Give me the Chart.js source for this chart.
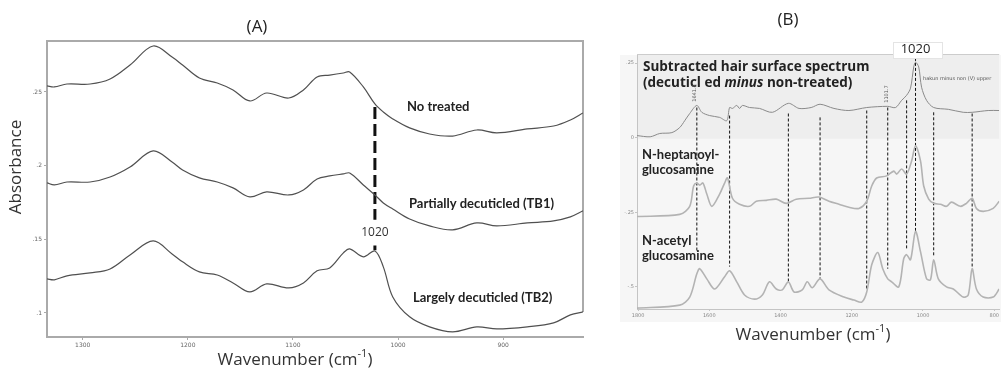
<!DOCTYPE html>
<html>
<head>
<meta charset="utf-8">
<script src="https://cdn.jsdelivr.net/npm/chart.js@4.4.1/dist/chart.umd.min.js"></script>
<style>
  body{margin:0;background:#fff;width:1001px;height:380px;overflow:hidden;position:relative;}
  #boxA{position:absolute;left:0;top:0;width:610px;height:380px;}
  #boxB{position:absolute;left:610px;top:0;width:391px;height:380px;}
</style>
</head>
<body>
<div id="boxA"><canvas id="chartA" width="610" height="380"></canvas></div>
<div id="boxB"><canvas id="chartB" width="391" height="380"></canvas></div>
<script>
/* Panel A data: wavenumber (cm-1) and absorbance */
const wnA = [1334,1327,1315,1293,1274,1255,1233,1215,1205,1189,1172,1157,1141,1125,1104,1090,1077,1065,1052,1046,1033,1022,1014,1005,989,970,948,925,906,877,852,836,824];
const noTreated = [0.2541,0.2534,0.2554,0.2554,0.2588,0.2683,0.2812,0.2737,0.2683,0.2595,0.2561,0.2514,0.2439,0.2493,0.2459,0.2514,0.2602,0.2615,0.2629,0.2636,0.2534,0.2419,0.2364,0.2317,0.2256,0.2215,0.2201,0.2242,0.2222,0.2249,0.2269,0.2310,0.2358];
const partlyTB1 = [0.1883,0.1869,0.1889,0.1889,0.1923,0.1991,0.2100,0.2025,0.1971,0.1917,0.1889,0.1849,0.1788,0.1822,0.1801,0.1835,0.1910,0.1930,0.1944,0.1950,0.1869,0.1801,0.1747,0.1706,0.1638,0.1591,0.1564,0.1611,0.1591,0.1611,0.1625,0.1652,0.1693];
const largelyTB2 = [0.1231,0.1225,0.1252,0.1272,0.1299,0.1394,0.1489,0.1401,0.1347,0.1279,0.1258,0.1204,0.1143,0.1197,0.1170,0.1204,0.1286,0.1306,0.1408,0.1435,0.1381,0.1421,0.1313,0.1109,0.0974,0.0906,0.0872,0.0906,0.0892,0.0906,0.0933,0.0987,0.1007];
const xTicksA = [1300,1200,1100,1000,900];
const yTicksA = [0.1,0.15,0.2,0.25];
const markA = 1022;

/* Panel B data */
const wnSub = [1803,1766,1739,1705,1683,1669,1655,1635,1621,1599,1571,1551,1543,1535,1523,1515,1507,1487,1459,1423,1378,1348,1314,1289,1250,1208,1158,1099,1077,1060,1046,1035,1026,1021,1012,1004,990,970,929,887,862,817,786];
const subtracted = [0.007,0.003,0.014,0.017,0.034,0.057,0.081,0.108,0.085,0.074,0.068,0.057,0.101,0.098,0.108,0.098,0.108,0.101,0.098,0.085,0.115,0.098,0.101,0.112,0.098,0.091,0.101,0.105,0.101,0.125,0.142,0.166,0.237,0.253,0.237,0.169,0.125,0.101,0.095,0.085,0.085,0.091,0.091];
const wnHep = [1803,1683,1655,1644,1635,1627,1618,1607,1593,1571,1557,1549,1535,1515,1487,1468,1440,1412,1384,1356,1320,1292,1264,1236,1208,1180,1158,1144,1130,1102,1082,1074,1060,1046,1032,1021,1007,998,984,970,951,934,920,895,878,862,850,831,803,786];
const heptanoyl = [-0.264,-0.257,-0.230,-0.162,-0.152,-0.159,-0.152,-0.189,-0.230,-0.189,-0.152,-0.135,-0.203,-0.223,-0.230,-0.213,-0.210,-0.206,-0.220,-0.206,-0.203,-0.199,-0.213,-0.223,-0.233,-0.237,-0.213,-0.162,-0.135,-0.128,-0.112,-0.122,-0.105,-0.122,-0.078,-0.027,-0.078,-0.162,-0.206,-0.220,-0.223,-0.230,-0.216,-0.230,-0.220,-0.203,-0.237,-0.247,-0.237,-0.213];
const wnAce = [1803,1683,1655,1635,1627,1607,1585,1557,1543,1523,1501,1473,1451,1431,1412,1395,1378,1362,1339,1325,1311,1289,1264,1222,1194,1172,1158,1144,1127,1113,1099,1088,1068,1054,1046,1035,1021,1007,990,979,970,957,934,915,887,873,862,850,831,803,786];
const acetyl = [-0.571,-0.561,-0.534,-0.456,-0.439,-0.473,-0.507,-0.466,-0.446,-0.483,-0.527,-0.541,-0.527,-0.483,-0.507,-0.510,-0.483,-0.517,-0.510,-0.483,-0.503,-0.473,-0.510,-0.534,-0.544,-0.551,-0.517,-0.426,-0.385,-0.439,-0.473,-0.483,-0.500,-0.405,-0.392,-0.409,-0.314,-0.382,-0.473,-0.476,-0.409,-0.473,-0.500,-0.507,-0.534,-0.527,-0.439,-0.507,-0.534,-0.534,-0.507];
const markWn = [1635,1543,1378,1289,1158,1099,1046,1021,970,862];
const markTop = [0.101,0.074,0.081,0.068,0.091,0.101,0.125,0.284,0.085,0.081];
const markBot = [-0.382,-0.432,-0.483,-0.473,-0.510,-0.439,-0.375,-0.314,-0.399,-0.432];
const xTicksB = [1800,1600,1400,1200,1000,800];
const yTicksB = [0.25,0,-0.25,-0.5];

const pts = (xs,ys)=>xs.map((x,i)=>({x,y:ys[i]}));
const shortNum = v => String(v).replace(/^0\./,'.').replace(/^-0\./,'-.');

/* draws text items (rich parts, rotation) after the chart */
const textPlugin = {
  id:'texts',
  afterDraw(chart,args,opts){
    const ctx=chart.ctx;
    (opts.items||[]).forEach(it=>{
      ctx.save();
      ctx.fillStyle=it.color||'#222';
      ctx.textBaseline='middle';ctx.textAlign='left';
      let w=0;
      it.parts.forEach(p=>{ctx.font=p.font;w+=ctx.measureText(p.t).width;});
      const x = it.wn!==undefined ? chart.scales.x.getPixelForValue(it.wn) : it.x;
      ctx.translate(x,it.y);
      if(it.rot) ctx.rotate(it.rot);
      let cx = it.align==='center' ? -w/2 : 0;
      it.parts.forEach(p=>{ctx.font=p.font;ctx.fillText(p.t,cx,p.dy||0);cx+=ctx.measureText(p.t).width;});
      ctx.restore();
    });
  }
};
const txt=(t,x,y,font,extra)=>Object.assign({parts:[{t,font}],x,y},extra||{});
const waveTitle=(x,y)=>({x,y,align:'center',color:'#333',parts:[
  {t:'Wavenumber (cm',font:'17px "Open Sans"'},{t:'-1',font:'11px "Open Sans"',dy:-6},{t:')',font:'17px "Open Sans"'}]});

const BOLD='bold 13px Lato';
const BOLDB='bold 13px Lato';
const BOLDS='bold 13.5px "Open Sans"';
const tickFont={size:6,family:'"DejaVu Sans"'};

/* Panel A */
const frameA={id:'frameA',beforeDatasetsDraw(chart){
  const {ctx,chartArea:a}=chart;
  ctx.save();ctx.strokeStyle='#aaa';ctx.lineWidth=2;
  ctx.beginPath();ctx.moveTo(a.left,a.top);ctx.lineTo(a.right,a.top);ctx.lineTo(a.right,312);ctx.stroke();
  ctx.restore();
}};
const curveA=(label,data)=>({label,data:pts(wnA,data),borderColor:'#505050',borderWidth:1.2,pointRadius:0,tension:0.35,fill:false});

new Chart(document.getElementById('chartA'),{
  type:'line',
  data:{datasets:[
    curveA('No treated',noTreated),
    curveA('Partially decuticled (TB1)',partlyTB1),
    curveA('Largely decuticled (TB2)',largelyTB2),
    {label:'1020',data:[{x:markA,y:0.2398},{x:markA,y:0.1632},{x:markA,y:null},{x:markA,y:0.1458},{x:markA,y:0.1425}],
     borderColor:'#111',borderWidth:3,borderDash:[12,5],pointRadius:0,tension:0,spanGaps:false}
  ]},
  options:{
    responsive:false,animation:false,
    layout:{padding:{top:41,right:27,left:0,bottom:0}},
    plugins:{legend:{display:false},tooltip:{enabled:false},
      texts:{items:[
        txt('(A)',257,27,'17px "Open Sans"',{align:'center',color:'#222'}),
        txt('Absorbance',16,167,'17px "Open Sans"',{align:'center',rot:-Math.PI/2,color:'#333'}),
        waveTitle(295,360),
        txt('No treated',407,107,BOLD),
        txt('Partially decuticled (TB1)',409,204,BOLD),
        txt('Largely decuticled (TB2)',413,298,BOLD),
        Object.assign(txt('1020',0,233,'12px "Open Sans"',{align:'center',color:'#333'}),{wn:markA})
      ]}},
    scales:{
      x:{type:'linear',reverse:true,min:824,max:1334,
        afterBuildTicks:s=>{s.ticks=xTicksA.map(v=>({value:v}));},
        afterFit:s=>{s.height=43;},
        border:{color:'#aaa',width:2},
        grid:{drawOnChartArea:false,tickLength:3,color:'#aaa'},
        ticks:{font:tickFont,color:'#666',padding:2,maxRotation:0,callback:v=>v}},
      y:{min:0.0837,max:0.2846,
        afterBuildTicks:s=>{s.ticks=yTicksA.map(v=>({value:v}));},
        afterFit:s=>{s.width=47;},
        border:{color:'#aaa',width:2},
        grid:{drawOnChartArea:false,tickLength:3,color:'#aaa'},
        ticks:{font:tickFont,color:'#666',padding:2,callback:v=>shortNum(v)}}
    }
  },
  plugins:[frameA,textPlugin]
});

/* Panel B */
const OFF=610;
const frameB={id:'frameB',
  beforeDraw(chart){
    const {ctx,chartArea:a}=chart;
    ctx.save();
    ctx.fillStyle='#f6f6f6';ctx.fillRect(620-OFF,a.top,chart.width-(620-OFF),322-a.top);
    ctx.fillStyle='#eeeeee';ctx.fillRect(a.left,a.top,a.right-a.left,chart.scales.y.getPixelForValue(0)+1-a.top);
    ctx.strokeStyle='#ccc';ctx.lineWidth=1;
    ctx.beginPath();ctx.moveTo(a.left,a.top-0.5);ctx.lineTo(a.right,a.top-0.5);ctx.stroke();
    ctx.restore();
  },
  afterDatasetsDraw(chart){
    const ctx=chart.ctx;
    ctx.save();ctx.fillStyle='#fff';ctx.strokeStyle='#e4e4e4';ctx.lineWidth=1;
    ctx.fillRect(893-OFF,42,49,16);ctx.strokeRect(893-OFF+0.5,42.5,49,16);
    ctx.restore();
  }};
const markData=[];
markWn.forEach((w,i)=>{markData.push({x:w,y:markTop[i]},{x:w,y:markBot[i]},{x:w,y:null});});

new Chart(document.getElementById('chartB'),{
  type:'line',
  data:{datasets:[
    {label:'Subtracted',data:pts(wnSub,subtracted),borderColor:'#8a8a8a',borderWidth:1,pointRadius:0,tension:0.3},
    {label:'N-heptanoyl-glucosamine',data:pts(wnHep,heptanoyl),borderColor:'#b3b3b3',borderWidth:1.6,pointRadius:0,tension:0.3},
    {label:'N-acetyl glucosamine',data:pts(wnAce,acetyl),borderColor:'#b3b3b3',borderWidth:1.6,pointRadius:0,tension:0.3},
    {label:'bands',data:markData,borderColor:'#111',borderWidth:1,borderDash:[3,2],pointRadius:0,tension:0,spanGaps:false}
  ]},
  options:{
    responsive:false,animation:false,
    layout:{padding:{top:55,right:0,left:0,bottom:0}},
    plugins:{legend:{display:false},tooltip:{enabled:false},
      texts:{items:[
        txt('(B)',788-OFF,20,'17px "Open Sans"',{align:'center'}),
        waveTitle(813-OFF,335),
        txt('Subtracted hair surface spectrum',643-OFF,67,BOLDS),
        {x:643-OFF,y:83,parts:[{t:'(decuticl ed ',font:BOLDS},{t:'minus',font:'italic '+BOLDS},{t:' non-treated)',font:BOLDS}]},
        txt('N-heptanoyl-',642-OFF,155,BOLDB),
        txt('glucosamine',642-OFF,170,BOLDB),
        txt('N-acetyl',642-OFF,241,BOLDB),
        txt('glucosamine',642-OFF,256,BOLDB),
        Object.assign(txt('1020',0,49,'13px "Open Sans"',{align:'center',color:'#222'}),{wn:1021}),
        txt('hakun minus non (V) upper',923-OFF,79,'5px "DejaVu Sans"',{color:'#555'}),
        txt('1641.8',695-OFF,93,'5px "DejaVu Sans"',{align:'center',rot:-Math.PI/2,color:'#555'}),
        txt('1101.7',887-OFF,94,'5px "DejaVu Sans"',{align:'center',rot:-Math.PI/2,color:'#555'})
      ]}},
    scales:{
      x:{type:'linear',reverse:true,min:786,max:1803,
        afterBuildTicks:s=>{s.ticks=xTicksB.map(v=>({value:v}));},
        afterFit:s=>{s.height=71;},
        border:{color:'#c4c4c4',width:1},
        grid:{drawOnChartArea:false,tickLength:2,color:'#c4c4c4'},
        ticks:{font:{size:5,family:'"DejaVu Sans"'},color:'#888',padding:2,maxRotation:0,callback:v=>v}},
      y:{min:-0.574,max:0.277,
        afterBuildTicks:s=>{s.ticks=yTicksB.map(v=>({value:v}));},
        afterFit:s=>{s.width=27;},
        border:{color:'#c4c4c4',width:1},
        grid:{drawOnChartArea:false,tickLength:2,color:'#c4c4c4'},
        ticks:{font:{size:5,family:'"DejaVu Sans"'},color:'#888',padding:1,callback:v=>shortNum(v)}}
    }
  },
  plugins:[frameB,textPlugin]
});
</script>
</body>
</html>
